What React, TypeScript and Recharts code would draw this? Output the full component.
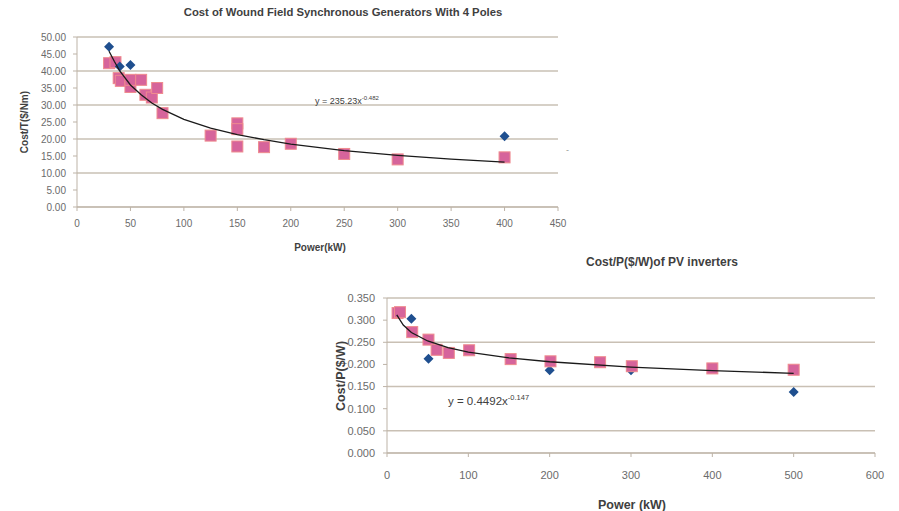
import React from 'react';
import { ScatterChart, Scatter, XAxis, YAxis, CartesianGrid } from 'recharts';

const FONT = '"Liberation Sans", Arial, sans-serif';

// ---------- Chart 1: generators ----------
const genTitle = 'Cost of Wound Field Synchronous Generators With 4 Poles';
const genXLabel = 'Power(kW)';
const genYLabel = 'Cost/T($/Nm)';
const genBlueX = [30, 40, 50, 400];
const genBlueY = [47.1, 41.3, 41.8, 20.8];
const genPinkX = [30, 36, 39, 41, 50, 50, 60, 64, 70, 75, 80, 125, 150, 150, 150, 175, 200, 250, 300, 400];
const genPinkY = [42.3, 42.6, 37.9, 37.1, 35.3, 37.4, 37.4, 33.0, 32.2, 35.0, 27.6, 21.0, 24.6, 22.9, 17.8, 17.6, 18.6, 15.6, 14.0, 14.6];
const genTrendX = [30, 35, 40, 50, 60, 70, 80, 100, 125, 150, 175, 200, 250, 300, 350, 400];
const genTrendY = [45.8, 42.8, 40.0, 35.9, 33.0, 30.6, 28.7, 25.8, 23.2, 21.3, 19.8, 18.5, 16.6, 15.2, 14.1, 13.2];
const genXTicks = [0, 50, 100, 150, 200, 250, 300, 350, 400, 450];
const genYTicks = [0, 5, 10, 15, 20, 25, 30, 35, 40, 45, 50];
const genEqBase = 'y = 235.23x';
const genEqExp = '-0.482';

// ---------- Chart 2: PV inverters ----------
const pvTitle = 'Cost/P($/W)of PV inverters';
const pvXLabel = 'Power (kW)';
const pvYLabel = 'Cost/P($/W)';
const pvBlueX = [30, 51, 200, 300, 500];
const pvBlueY = [0.303, 0.213, 0.187, 0.187, 0.138];
const pvPinkX = [13, 16, 31, 51, 61, 76, 101, 152, 201, 262, 301, 400, 500];
const pvPinkY = [0.316, 0.318, 0.273, 0.256, 0.233, 0.226, 0.232, 0.212, 0.207, 0.205, 0.196, 0.191, 0.188];
const pvTrendX = [12, 20, 30, 50, 75, 100, 150, 200, 300, 400, 500];
const pvTrendY = [0.312, 0.289, 0.272, 0.253, 0.238, 0.228, 0.215, 0.206, 0.194, 0.186, 0.180];
const pvXTicks = [0, 100, 200, 300, 400, 500, 600];
const pvYTicks = [0, 0.05, 0.1, 0.15, 0.2, 0.25, 0.3, 0.35];
const pvEqBase = 'y = 0.4492x';
const pvEqExp = '-0.147';

const zip = (xs: number[], ys: number[]) => xs.map((x, i) => ({ x, y: ys[i] }));

const GRID = '#c9c0b4';
const AXIS = '#bdb3a7';
const TICK_TEXT = '#6b6b6b';
const LABEL_TEXT = '#3f3f3f';
const BLUE = '#1f4f8f';
const PINK_FILL = '#d6649b';
const PINK_STROKE = '#ef8b8e';

const makeSquare = (size: number) => (props: any) => {
  const { cx, cy } = props;
  if (cx == null || cy == null) return <g />;
  return (
    <rect x={cx - size / 2} y={cy - size / 2} width={size} height={size}
      fill={PINK_FILL} stroke={PINK_STROKE} strokeWidth={1} />
  );
};

const makeDiamond = (r: number) => (props: any) => {
  const { cx, cy } = props;
  if (cx == null || cy == null) return <g />;
  return (
    <polygon points={`${cx},${cy - r} ${cx + r},${cy} ${cx},${cy + r} ${cx - r},${cy}`} fill={BLUE} />
  );
};

const noShape = () => <g />;

const abs = (left: number, top: number, extra: React.CSSProperties = {}): React.CSSProperties => ({
  position: 'absolute', left, top, whiteSpace: 'nowrap', ...extra,
});

export default function App() {
  return (
    <div style={{ position: 'absolute', left: 0, top: 0, width: 899, height: 511, background: '#fff', fontFamily: FONT, overflow: 'hidden' }}>
      {/* Chart 1 */}
      <div style={abs(0, 0)}>
        <ScatterChart width={600} height={265} margin={{ top: 37, right: 42, bottom: 28, left: 17 }}>
          <CartesianGrid horizontal vertical={false} stroke={GRID} strokeWidth={1.5} />
          <XAxis type="number" dataKey="x" domain={[0, 450]} ticks={genXTicks} allowDataOverflow
            tick={{ fontSize: 10, fill: TICK_TEXT, fontFamily: FONT }} tickSize={4} tickMargin={9}
            axisLine={{ stroke: AXIS }} tickLine={{ stroke: AXIS }} height={30} />
          <YAxis type="number" dataKey="y" domain={[0, 50]} ticks={genYTicks} allowDataOverflow
            tickFormatter={(v: number) => v.toFixed(2)}
            tick={{ fontSize: 10, fill: TICK_TEXT, fontFamily: FONT }} tickSize={4} tickMargin={7}
            axisLine={{ stroke: AXIS }} tickLine={{ stroke: AXIS }} width={60} />
          <Scatter data={zip(genPinkX, genPinkY)} shape={makeSquare(11)} isAnimationActive={false} />
          <Scatter data={zip(genBlueX, genBlueY)} shape={makeDiamond(5)} isAnimationActive={false} />
          <Scatter data={zip(genTrendX, genTrendY)} shape={noShape} line={{ stroke: '#1a1a1a', strokeWidth: 1.3 }}
            lineType="joint" isAnimationActive={false} />
        </ScatterChart>
      </div>
      <div style={abs(143, 6, { width: 400, textAlign: 'center', fontSize: 11.3, fontWeight: 'bold', color: LABEL_TEXT, lineHeight: '13px' })}>{genTitle}</div>
      <div style={abs(-35, 116, { width: 120, textAlign: 'center', fontSize: 10, fontWeight: 'bold', color: LABEL_TEXT, lineHeight: '12px', transform: 'rotate(-90deg)' })}>{genYLabel}</div>
      <div style={abs(220, 242, { width: 200, textAlign: 'center', fontSize: 10, fontWeight: 'bold', color: LABEL_TEXT, lineHeight: '12px' })}>{genXLabel}</div>
      <div style={abs(315, 92, { fontSize: 9, color: '#404040', lineHeight: '12px' })}>
        {genEqBase}<sup style={{ fontSize: 6 }}>{genEqExp}</sup>
      </div>
      <div style={abs(566, 144, { fontSize: 9, color: '#999', lineHeight: '12px' })}>-</div>

      {/* Chart 2 */}
      <div style={abs(330, 275)}>
        <ScatterChart width={560} height={236} margin={{ top: 23, right: 15, bottom: 28, left: 7 }}>
          <CartesianGrid horizontal vertical={false} stroke={GRID} strokeWidth={1.5} />
          <XAxis type="number" dataKey="x" domain={[0, 600]} ticks={pvXTicks} allowDataOverflow
            tick={{ fontSize: 11, fill: TICK_TEXT, fontFamily: FONT }} tickSize={4} tickMargin={14}
            axisLine={{ stroke: AXIS }} tickLine={{ stroke: AXIS }} height={30} />
          <YAxis type="number" dataKey="y" domain={[0, 0.35]} ticks={pvYTicks} allowDataOverflow
            tickFormatter={(v: number) => v.toFixed(3)}
            tick={{ fontSize: 11, fill: TICK_TEXT, fontFamily: FONT }} tickSize={4} tickMargin={8}
            axisLine={{ stroke: AXIS }} tickLine={{ stroke: AXIS }} width={50} />
          <Scatter data={zip(pvBlueX, pvBlueY)} shape={makeDiamond(5)} isAnimationActive={false} />
          <Scatter data={zip(pvPinkX, pvPinkY)} shape={makeSquare(11)} isAnimationActive={false} />
          <Scatter data={zip(pvTrendX, pvTrendY)} shape={noShape} line={{ stroke: '#1a1a1a', strokeWidth: 1.3 }}
            lineType="joint" isAnimationActive={false} />
        </ScatterChart>
      </div>
      <div style={abs(512, 255, { width: 300, textAlign: 'center', fontSize: 12, fontWeight: 'bold', color: LABEL_TEXT, lineHeight: '14px' })}>{pvTitle}</div>
      <div style={abs(281, 369, { width: 120, textAlign: 'center', fontSize: 12.5, fontWeight: 'bold', color: LABEL_TEXT, lineHeight: '14px', transform: 'rotate(-90deg)' })}>{pvYLabel}</div>
      <div style={abs(532, 498, { width: 200, textAlign: 'center', fontSize: 12.5, fontWeight: 'bold', color: LABEL_TEXT, lineHeight: '14px' })}>{pvXLabel}</div>
      <div style={abs(448, 391, { fontSize: 11.5, color: '#404040', lineHeight: '14px' })}>
        {pvEqBase}<sup style={{ fontSize: 7.5 }}>{pvEqExp}</sup>
      </div>
    </div>
  );
}
